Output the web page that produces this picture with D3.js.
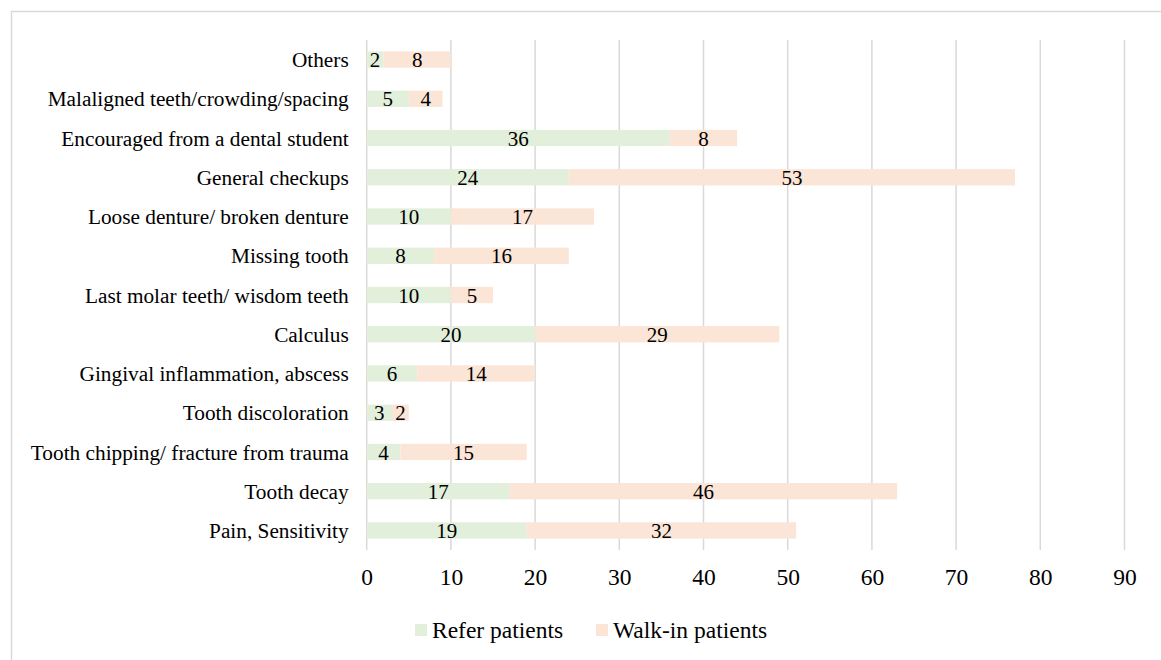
<!DOCTYPE html>
<html><head><meta charset="utf-8">
<script src="https://cdn.jsdelivr.net/npm/d3@7"></script>
<style>body{margin:0;background:#fff;} svg{display:block;}</style>
</head><body>
<svg id="chart" width="1161" height="660"></svg>
<script>
const categories = ["Others","Malaligned teeth/crowding/spacing","Encouraged from a dental student","General checkups","Loose denture/ broken denture","Missing tooth","Last molar teeth/ wisdom teeth","Calculus","Gingival inflammation, abscess","Tooth discoloration","Tooth chipping/ fracture from trauma","Tooth decay","Pain, Sensitivity"];
const referPatients = [2,5,36,24,10,8,10,20,6,3,4,17,19];
const walkInPatients = [8,4,8,53,17,16,5,29,14,2,15,46,32];
const xTicks = [0,10,20,30,40,50,60,70,80,90];
const seriesNames = ["Refer patients","Walk-in patients"];
const colors = ["#e2efda","#fbe5d6"];

(function(){
const svg = d3.select("#chart");
const font = "'Liberation Serif','Times New Roman',serif";
svg.append("rect").attr("x",11.5).attr("y",11.5).attr("width",1200).attr("height",700)
  .attr("fill","#fff").attr("stroke","#d9d9d9").attr("stroke-width",1.5);

const pLeft = 366.7, pRight = 1124.5, pTop = 40, pBottom = 550;
const x = d3.scaleLinear().domain([0,90]).range([pLeft,pRight]);
const y = d3.scaleBand().domain(categories).range([pTop,pBottom]).paddingInner(0.585).paddingOuter(0.29);

const g = svg.append("g");
g.selectAll("line.grid").data(xTicks).join("line").attr("class","grid")
  .attr("x1",d=>x(d)).attr("x2",d=>x(d)).attr("y1",pTop).attr("y2",pBottom)
  .attr("stroke","#d9d9d9").attr("stroke-width",1.5);

const stackData = categories.map((c,i)=>({cat:c, refer:referPatients[i], walk:walkInPatients[i]}));
const stack = d3.stack().keys(["refer","walk"])(stackData);

stack.forEach((layer,li)=>{
  g.selectAll("rect.s"+li).data(layer).join("rect").attr("class","s"+li)
    .attr("x",d=>x(d[0])).attr("width",d=>x(d[1])-x(d[0]))
    .attr("y",d=>y(d.data.cat)).attr("height",y.bandwidth())
    .attr("fill",colors[li]);
});
stack.forEach((layer,li)=>{
  g.selectAll("text.l"+li).data(layer).join("text").attr("class","l"+li)
    .attr("x",d=>x((d[0]+d[1])/2)).attr("y",d=>y(d.data.cat)+y.bandwidth()/2)
    .attr("dy","0.36em").attr("text-anchor","middle")
    .attr("font-family",font).attr("font-size",21).attr("fill","#000")
    .text(d=>d[1]-d[0]);
});

const yAxis = d3.axisLeft(y).tickSize(0).tickPadding(18);
const ya = svg.append("g").attr("transform",`translate(${pLeft},0)`).call(yAxis);
ya.attr("font-family",font).attr("font-size",21.3);
ya.select(".domain").remove();
ya.selectAll("text").attr("font-family",font).attr("font-size",21.3).attr("fill","#000").attr("dy","0.36em");

const xAxis = d3.axisBottom(x).tickValues(xTicks).tickSize(0).tickPadding(18);
const xa = svg.append("g").attr("transform",`translate(0,${pBottom})`).call(xAxis);
xa.attr("font-family",font).attr("font-size",23.5);
xa.select(".domain").remove();
xa.selectAll("text").attr("font-family",font).attr("font-size",23.5).attr("fill","#000");

const legX = [415, 596];
const lg = svg.append("g");
seriesNames.forEach((n,i)=>{
  lg.append("rect").attr("x",legX[i]).attr("y",624).attr("width",12).attr("height",12).attr("fill",colors[i]);
  lg.append("text").attr("x",legX[i]+17).attr("y",630).attr("dy","0.36em")
    .attr("font-family",font).attr("font-size",23.5).attr("fill","#000").text(n);
});
})();
</script>
</body></html>
